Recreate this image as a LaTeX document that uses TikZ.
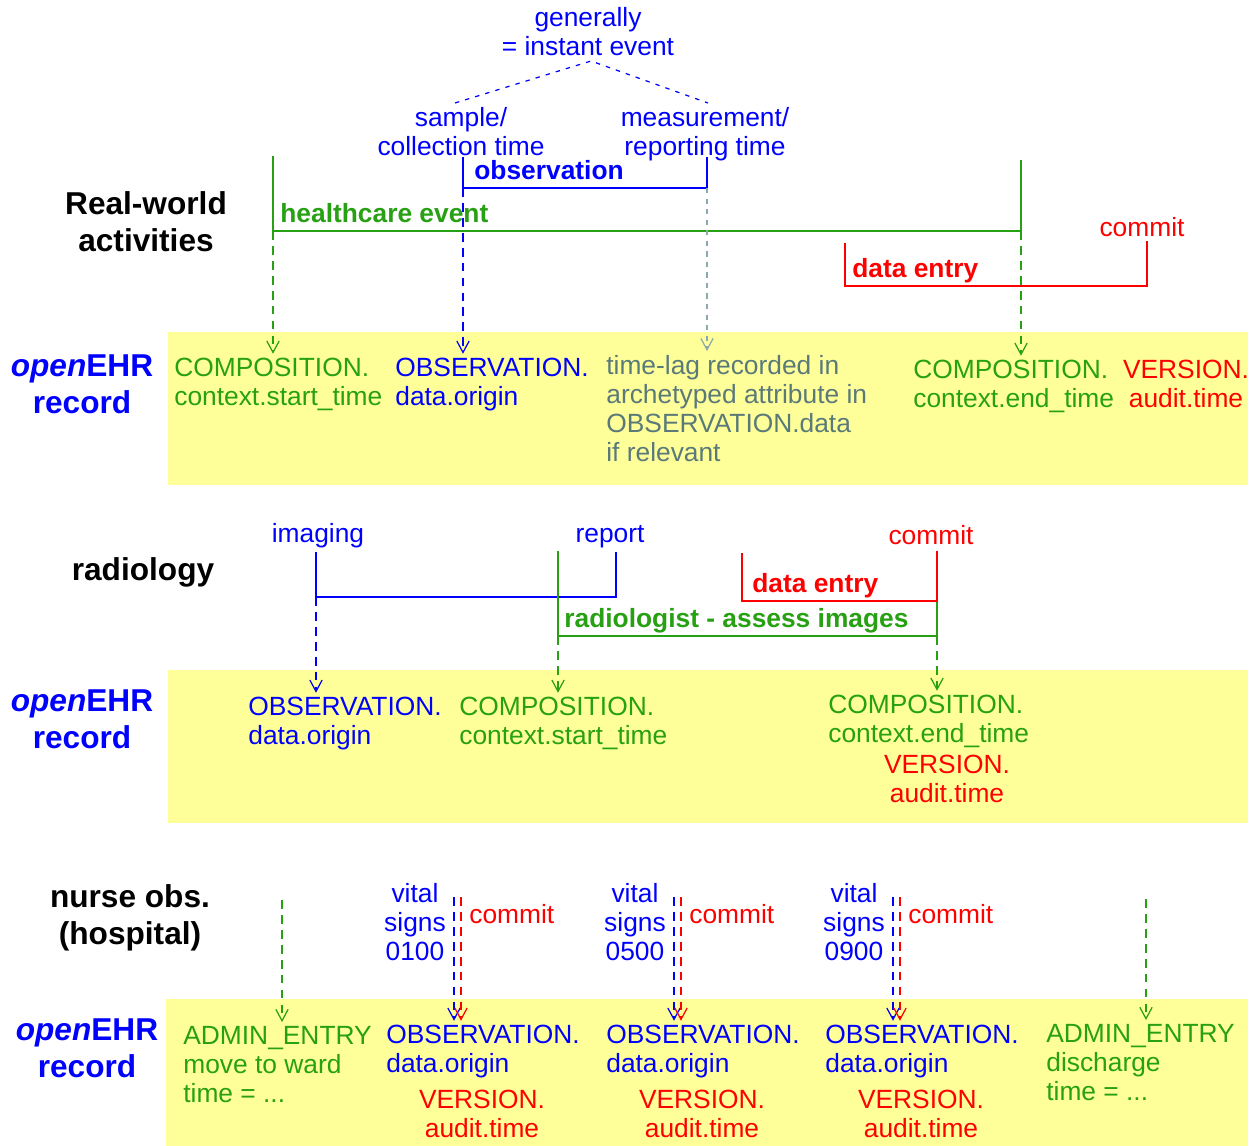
\documentclass[tikz,border=0pt]{standalone}
\usepackage{fontspec}
\setmainfont{Liberation Sans}
\usetikzlibrary{arrows.meta, calc}
\definecolor{ehrblue}{RGB}{0,0,255}
\definecolor{ehrgreen}{RGB}{40,160,20}
\definecolor{ehrred}{RGB}{255,0,0}
\definecolor{lagtext}{RGB}{90,122,122}
\definecolor{lagline}{RGB}{140,168,175}
\definecolor{ehryellow}{RGB}{255,255,153}
\tikzset{
    txt/.style={inner sep=0pt, align=left, font=\fontsize{15}{16.5}\selectfont},
    ctxt/.style={txt, align=center},
    tag/.style={txt, font=\fontsize{15}{16.5}\selectfont\bfseries},
    heading/.style={inner sep=0pt, align=center, font=\fontsize{18}{21}\selectfont\bfseries},
    span/.style={line width=1.3pt},
    link/.style={line width=1.3pt, dash pattern=on 5pt off 3.5pt, shorten >=2pt, -{Straight Barb[length=6.5pt,width=7pt,line width=0.7pt]}},
    hint/.style={line width=0.7pt, dash pattern=on 2.5pt off 3.5pt},
    recordbox/.style={fill=ehryellow}
}

\begin{document}
\begin{tikzpicture}[x=0.02cm, y=-0.02cm]
    \useasboundingbox (0,0) rectangle (1252,1146);

    % Record bands
    \fill[recordbox] (168,332) rectangle (1248,485);
    \fill[recordbox] (168,670) rectangle (1248,823);
    \fill[recordbox] (166,999) rectangle (1248,1146);

    % Real-world activities (base = last line)
    \node[heading, anchor=base] (rw) at (146,251) {Real-world\\activities};
    \node[ctxt, ehrblue, anchor=base] (gen) at (588,55) {generally\\= instant event};
    \node[ctxt, ehrblue, anchor=base] (smp) at (461,155) {sample/\\collection time};
    \node[ctxt, ehrblue, anchor=base] (meas) at (705,155) {measurement/\\reporting time};
    \node[tag, ehrblue, anchor=base west] (obs) at (474,179) {observation};
    \node[tag, ehrgreen, anchor=base west] (hce) at (280,222) {healthcare event};
    \node[tag, ehrred, anchor=base west] (de1) at (852,277) {data entry};
    \node[ctxt, ehrred, anchor=base] (cm1) at (1142,236) {commit};

    \coordinate (genB) at (591,61);
    \coordinate (smpT) at (455,103);
    \coordinate (measT) at (708,103);
    \draw[hint, ehrblue] (smpT) -- (genB) -- (measT);

    \coordinate (obsL) at (463,188);
    \coordinate (obsR) at (707,188);
    \coordinate (hceL) at (273,231);
    \coordinate (hceR) at (1021,231);
    \draw[span, ehrblue] (463,157) -- (obsL) -- (obsR) -- (707,157);
    \draw[span, ehrgreen] (273,156) -- (hceL) -- (hceR) -- (1021,160);
    \draw[span, ehrred] (845,243) -- (845,286) -- (1147,286) -- (1147,241);

    % openEHR record 1
    \node[heading, ehrblue, anchor=base] (rec1) at (82,413) {\textit{open}EHR\\record};
    \node[txt, ehrgreen, anchor=base west] (cst1) at (174,405) {COMPOSITION.\\context.start\_time};
    \node[txt, ehrblue, anchor=base west] (obs1) at (395,405) {OBSERVATION.\\data.origin};
    \node[txt, lagtext, anchor=base west] (lag) at (606,461) {time-lag recorded in\\archetyped attribute in\\OBSERVATION.data\\if relevant};
    \node[txt, ehrgreen, anchor=base west] (cend1) at (913,407) {COMPOSITION.\\context.end\_time};
    \node[ctxt, ehrred, anchor=base] (ver1) at (1186,407) {VERSION.\\audit.time};

    \draw[link, ehrgreen] (hceL) -- (hceL |- cst1.north);
    \draw[link, ehrblue] (obsL) -- (obsL |- obs1.north);
    \draw[link, lagline, dash pattern=on 3pt off 3pt] (obsR) -- (obsR |- lag.north);
    \draw[link, ehrgreen] (hceR) -- (hceR |- cend1.north);

    % radiology
    \node[heading, anchor=base] (rad) at (143,580) {radiology};
    \node[ctxt, ehrblue, anchor=base] (img) at (318,542) {imaging};
    \node[ctxt, ehrblue, anchor=base] (rep) at (610,542) {report};
    \node[ctxt, ehrred, anchor=base] (cm2) at (931,544) {commit};
    \node[tag, ehrred, anchor=base west] (de2) at (752,592) {data entry};
    \node[tag, ehrgreen, anchor=base west] (ass) at (564,627) {radiologist - assess images};

    \coordinate (imgL) at (316,597);
    \coordinate (assL) at (558,636);
    \coordinate (assR) at (937,636);
    \draw[span, ehrblue] (316,552) -- (imgL) -- (616,597) -- (616,552);
    \draw[span, ehrgreen] (558,551) -- (assL) -- (assR) -- (937,601);
    \draw[span, ehrred] (742,553) -- (742,601) -- (937,601) -- (937,551);

    % openEHR record 2
    \node[heading, ehrblue, anchor=base] (rec2) at (82,748) {\textit{open}EHR\\record};
    \node[txt, ehrblue, anchor=base west] (obs2) at (248,744) {OBSERVATION.\\data.origin};
    \node[txt, ehrgreen, anchor=base west] (cst2) at (459,744) {COMPOSITION.\\context.start\_time};
    \node[txt, ehrgreen, anchor=base west] (cend2) at (828,742) {COMPOSITION.\\context.end\_time};
    \node[ctxt, ehrred, anchor=base] (ver2) at (947,802) {VERSION.\\audit.time};

    \draw[link, ehrblue] (imgL) -- (imgL |- obs2.north);
    \draw[link, ehrgreen] (assL) -- (assL |- cst2.north);
    \draw[link, ehrgreen] (assR) -- (assR |- cend2.north);

    % nurse obs.
    \node[heading, anchor=base] (nurse) at (130,944) {nurse obs.\\(hospital)};

    % openEHR record 3
    \node[heading, ehrblue, anchor=base] (rec3) at (87,1077) {\textit{open}EHR\\record};
    \node[txt, ehrgreen, anchor=base west] (adm1) at (183,1102) {ADMIN\_ENTRY\\move to ward\\time = ...};
    \node[txt, ehrgreen, anchor=base west] (adm2) at (1046,1100) {ADMIN\_ENTRY\\discharge\\time = ...};

    \coordinate (adm1T) at (282,900);
    \coordinate (adm2T) at (1146,899);
    \draw[link, ehrgreen] (adm1T) -- (adm1T |- adm1.north);
    \draw[link, ehrgreen] (adm2T) -- (adm2T |- adm2.north);

    \foreach \i/\dx/\hr in {1/0/0100, 2/220/0500, 3/439/0900} {
        \node[ctxt, ehrblue, anchor=base] (vs\i) at (415+\dx,960) {vital\\signs\\\hr};
        \node[txt, ehrred, anchor=base west] (cm\i) at (469+\dx,923) {commit};
        \node[txt, ehrblue, anchor=base west] (ob\i) at (386+\dx,1072) {OBSERVATION.\\data.origin};
        \node[ctxt, ehrred, anchor=base] (ve\i) at (482+\dx,1137) {VERSION.\\audit.time};
        \coordinate (vsB\i) at (454+\dx,897);
        \coordinate (vsR\i) at (461+\dx,897);
        \draw[link, ehrblue] (vsB\i) -- (vsB\i |- ob\i.north);
        \draw[link, ehrred] (vsR\i) -- (vsR\i |- ob\i.north);
    }
\end{tikzpicture}
\end{document}
